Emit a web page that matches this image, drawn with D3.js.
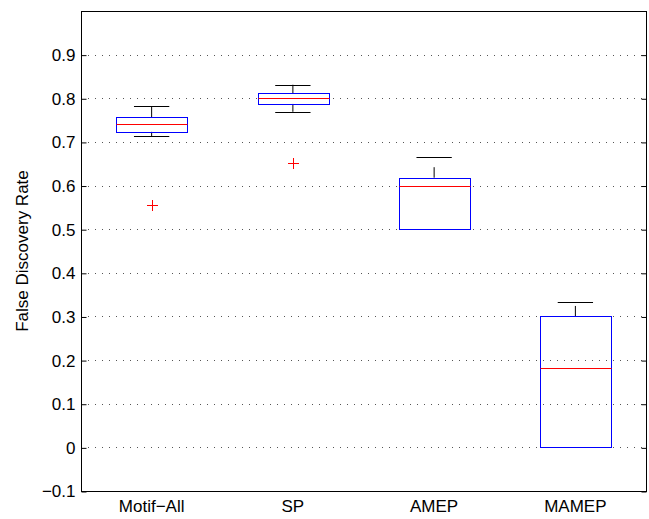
<!DOCTYPE html>
<html>
<head>
<meta charset="utf-8">
<script src="https://cdn.jsdelivr.net/npm/d3@7"></script>
<style>
  html, body { margin: 0; padding: 0; background: #fff; }
  svg { display: block; }
  text { font-family: "Liberation Sans", Arial, Helvetica, sans-serif; }
</style>
</head>
<body>
<svg id="chart" width="649" height="519"></svg>
<script>
// ---- data ----
const categories   = ["Motif\u2212All", "SP", "AMEP", "MAMEP"];
const whiskerLow   = [0.713, 0.769, 0.500, 0.000];
const q1           = [0.723, 0.787, 0.500, 0.000];
const medians      = [0.740, 0.800, 0.598, 0.182];
const q3           = [0.756, 0.812, 0.618, 0.300];
const whiskerHigh  = [0.782, 0.831, 0.665, 0.332];
const outliers     = [[0.556], [0.651], [], []];
const yTicks       = [-0.1, 0, 0.1, 0.2, 0.3, 0.4, 0.5, 0.6, 0.7, 0.8, 0.9];
const yLabel       = "False Discovery Rate";

// ---- layout ----
const L = 81, R = 646, T = 11, B = 491;
const svg = d3.select("#chart");

const x = d3.scaleBand().domain(categories).range([L, R]).padding(0);
const y = d3.scaleLinear().domain([-0.1, 1.0]).range([B, T]);
const fmt = d => (d < 0 ? "\u2212" : "") + (d === 0 ? "0" : d3.format(".1f")(Math.abs(d)));

// grid
svg.append("g").selectAll("line")
  .data(yTicks.filter(t => t > -0.1))
  .join("line")
  .attr("x1", L).attr("x2", R)
  .attr("y1", d => Math.round(y(d)) + 0.5).attr("y2", d => Math.round(y(d)) + 0.5)
  .attr("stroke", "#555").attr("stroke-width", 1)
  .attr("stroke-dasharray", "1,6");

const boxes = categories.map((c, i) => ({
  c, lo: whiskerLow[i], q1: q1[i], med: medians[i], q3: q3[i], hi: whiskerHigh[i], out: outliers[i]
}));

const bw = x.bandwidth() * 0.5;
const cw = x.bandwidth() * 0.25;
const g = svg.append("g");

boxes.forEach(b => {
  const cx = x(b.c) + x.bandwidth() / 2;
  // upper whisker (dashed, starting at box)
  if (b.hi > b.q3) {
    g.append("line").attr("x1", cx).attr("x2", cx)
      .attr("y1", y(b.q3)).attr("y2", y(b.hi))
      .attr("stroke", "#000").attr("stroke-dasharray", "10.5,12");
    g.append("line").attr("x1", cx - cw / 2).attr("x2", cx + cw / 2)
      .attr("y1", Math.round(y(b.hi)) + 0.5).attr("y2", Math.round(y(b.hi)) + 0.5)
      .attr("stroke", "#000");
  }
  if (b.lo < b.q1) {
    g.append("line").attr("x1", cx).attr("x2", cx)
      .attr("y1", y(b.q1)).attr("y2", y(b.lo))
      .attr("stroke", "#000").attr("stroke-dasharray", "10.5,12");
    g.append("line").attr("x1", cx - cw / 2).attr("x2", cx + cw / 2)
      .attr("y1", Math.round(y(b.lo)) + 0.5).attr("y2", Math.round(y(b.lo)) + 0.5)
      .attr("stroke", "#000");
  }
  // box
  g.append("rect")
    .attr("x", Math.round(cx - bw / 2) + 0.5)
    .attr("y", Math.round(y(b.q3)) + 0.5)
    .attr("width", Math.round(bw))
    .attr("height", Math.max(0, Math.round(y(b.q1)) - Math.round(y(b.q3))))
    .attr("fill", "none").attr("stroke", "#0000ff").attr("stroke-width", 1);
  // median
  g.append("line")
    .attr("x1", Math.round(cx - bw / 2) + 0.5).attr("x2", Math.round(cx - bw / 2) + 0.5 + Math.round(bw))
    .attr("y1", Math.round(y(b.med)) + 0.5).attr("y2", Math.round(y(b.med)) + 0.5)
    .attr("stroke", "#ff0000").attr("stroke-width", 1);
  // outliers
  b.out.forEach(o => {
    const oy = Math.round(y(o)) + 0.5, ox = Math.round(cx) + 0.5;
    g.append("line").attr("x1", ox - 5.5).attr("x2", ox + 5.5).attr("y1", oy).attr("y2", oy)
      .attr("stroke", "#ff0000");
    g.append("line").attr("x1", ox).attr("x2", ox).attr("y1", oy - 5.5).attr("y2", oy + 5.5)
      .attr("stroke", "#ff0000");
  });
});

// frame
svg.append("rect").attr("x", L + 0.5).attr("y", T + 0.5)
  .attr("width", R - L).attr("height", B - T)
  .attr("fill", "none").attr("stroke", "#000").attr("stroke-width", 1);

// left axis
const ay = svg.append("g").attr("transform", `translate(${L + 0.5},0.5)`)
  .call(d3.axisLeft(y).tickValues(yTicks).tickFormat(fmt).tickSize(-5).tickPadding(6));
ay.select(".domain").remove();
ay.selectAll("text").attr("font-size", 17).attr("fill", "#000")
  .attr("font-family", "'Liberation Sans', Arial, Helvetica, sans-serif");
ay.selectAll("line").attr("stroke", "#000");

// right axis ticks
const ar = svg.append("g").attr("transform", `translate(${R + 0.5},0.5)`)
  .call(d3.axisRight(y).tickValues(yTicks).tickFormat("").tickSize(-5));
ar.select(".domain").remove();
ar.selectAll("line").attr("stroke", "#000");

// bottom axis labels
const ax = svg.append("g").attr("transform", `translate(0,${B})`)
  .call(d3.axisBottom(x).tickSize(0).tickPadding(9));
ax.select(".domain").remove();
ax.selectAll("text").attr("font-size", 17).attr("fill", "#000")
  .attr("font-family", "'Liberation Sans', Arial, Helvetica, sans-serif");

// y label
svg.append("text")
  .attr("transform", `translate(28,${(T + B) / 2}) rotate(-90)`)
  .attr("text-anchor", "middle")
  .attr("font-size", 17).attr("fill", "#000")
  .text(yLabel);
</script>
</body>
</html>
